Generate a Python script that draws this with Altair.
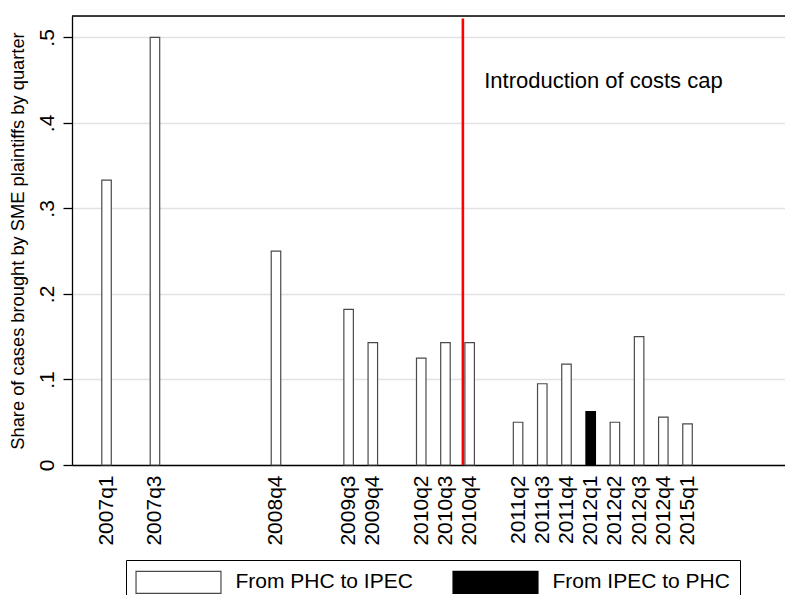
import altair as alt
import pandas as pd

# All quarter categories on the axis (empty quarters keep their slot)
ALL_QUARTERS = [f"{y}q{q}" for y in range(2007, 2013) for q in range(1, 5)] + ["2015q1"]

PHC_QUARTERS = ["2007q1", "2007q3", "2008q4", "2009q3", "2009q4", "2010q2", "2010q3",
                "2010q4", "2011q2", "2011q3", "2011q4", "2012q2", "2012q3", "2012q4", "2015q1"]
PHC_VALUES = [0.333, 0.5, 0.25, 0.182, 0.143, 0.125, 0.143,
              0.143, 0.05, 0.095, 0.118, 0.05, 0.15, 0.056, 0.048]
IPEC_QUARTERS = ["2012q1"]
IPEC_VALUES = [0.0625]
SERIES = ["From PHC to IPEC", "From IPEC to PHC"]

CAP_POSITION = 15.72          # between 2010q3 and 2010q4 slots
CAP_TOP = 0.522
CAP_LABEL = "Introduction of costs cap"
CAP_LABEL_X = 16.6
CAP_LABEL_Y = 0.441
Y_TICKS = [0, 0.1, 0.2, 0.3, 0.4, 0.5]
Y_MAX = 0.525

FONT = "Liberation Sans"

rows = []
for q, v in zip(PHC_QUARTERS, PHC_VALUES):
    rows.append({"quarter": q, "idx": ALL_QUARTERS.index(q) + 1, "share": v, "series": SERIES[0]})
for q, v in zip(IPEC_QUARTERS, IPEC_VALUES):
    rows.append({"quarter": q, "idx": ALL_QUARTERS.index(q) + 1, "share": v, "series": SERIES[1]})
df = pd.DataFrame(rows)
label_ticks = sorted(df["idx"].tolist())

label_array = "[" + ",".join(f"'{q}'" for q in ALL_QUARTERS) + "]"

x_scale = alt.Scale(domain=[-0.22, 28.82], nice=False, zero=False)
y_scale = alt.Scale(domain=[0, Y_MAX], nice=False)

x_axis = alt.Axis(values=label_ticks, labelExpr=f"{label_array}[datum.value - 1]",
                  labelAngle=-90, labelAlign="right", labelBaseline="middle",
                  ticks=False, tickSize=0, grid=False, title=None, labelPadding=10,
                  labelFontSize=21, labelFont=FONT, labelColor="black",
                  domainColor="black", domainWidth=1.3, labelOverlap=False)
y_axis = alt.Axis(values=Y_TICKS,
                  labelExpr="datum.value == 0 ? '0' : replace(format(datum.value, '.1f'), '0.', '.')",
                  labelAngle=-90, labelAlign="center", labelBaseline="alphabetic",
                  labelPadding=10, labelFontSize=21, labelFont=FONT, labelColor="black",
                  tickSize=9, tickColor="black", tickWidth=1.3,
                  domainColor="black", domainWidth=1.3,
                  grid=True, gridColor="#e2e2e2", gridWidth=1.6,
                  title="Share of cases brought by SME plaintiffs by quarter",
                  titleFont=FONT, titleFontSize=18.3, titleFontWeight="normal",
                  titleColor="black", titlePadding=9)

legend = alt.Legend(title=None, orient="none", legendX=54, legendY=544,
                    direction="horizontal", strokeColor="black",
                    padding=10, symbolType="M-3.86,-1H3.86V1H-3.86Z", symbolSize=484,
                    symbolOffset=30.5, labelOffset=45, columnPadding=37,
                    symbolStrokeWidth=1.2, labelFontSize=21, labelFont=FONT,
                    labelColor="black", labelLimit=400)

bars = alt.Chart(df).mark_bar(width=9.5, strokeWidth=1.2).encode(
    x=alt.X("idx:Q", scale=x_scale, axis=x_axis),
    y=alt.Y("share:Q", scale=y_scale, axis=y_axis),
    fill=alt.Fill("series:N", scale=alt.Scale(domain=SERIES, range=["white", "black"]), legend=legend),
    stroke=alt.Stroke("series:N", scale=alt.Scale(domain=SERIES, range=["#4a4a4a", "black"]), legend=legend),
)

cap_df = pd.DataFrame({"x": [CAP_POSITION], "bottom": [0.0], "top": [CAP_TOP]})
rule = alt.Chart(cap_df).mark_rule(color="red", strokeWidth=2.6).encode(
    x="x:Q", y="bottom:Q", y2="top:Q")

text = alt.Chart(pd.DataFrame({"x": [CAP_LABEL_X], "y": [CAP_LABEL_Y], "label": [CAP_LABEL]})).mark_text(
    align="left", baseline="alphabetic", fontSize=22, font=FONT, color="black").encode(
    x="x:Q", y="y:Q", text="label:N")

# top frame line of the plot region
frame_top = alt.Chart(pd.DataFrame({"top": [Y_MAX]})).mark_rule(color="black", strokeWidth=1.3).encode(
    y="top:Q")

chart = alt.layer(bars, rule, text, frame_top).properties(
    width=713, height=449,
    autosize=alt.AutoSizeParams(type="none"),
    padding={"left": 64, "top": 8, "right": 0, "bottom": 130},
).configure_view(stroke=None).configure(background="white")

chart.save("out.html", embed_options={"renderer": "svg", "actions": False})
